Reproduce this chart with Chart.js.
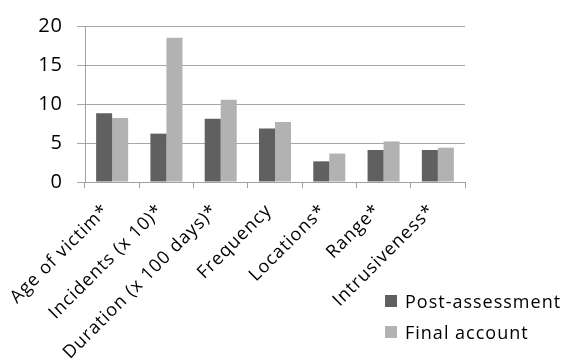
<!DOCTYPE html>
<html>
<head>
<meta charset="utf-8">
<script src="https://cdn.jsdelivr.net/npm/chart.js@4/dist/chart.umd.min.js"></script>
<style>
    html, body { margin: 0; padding: 0; background: #fff; }
    #wrap { width: 564px; height: 362px; }
</style>
</head>
<body>
<div id="wrap"><canvas id="assessChart" width="564" height="362"></canvas></div>
<script>
// Categories and the two series
const categories = ["Age of victim*", "Incidents (x 10)*", "Duration (x 100 days)*", "Frequency", "Locations*", "Range*", "Intrusiveness*"];
const postAssessment = [8.8, 6.2, 8.1, 6.85, 2.65, 4.1, 4.1];
const finalAccount = [8.2, 18.5, 10.55, 7.7, 3.65, 5.2, 4.4];
const yTicks = [0, 5, 10, 15, 20];

const FONT = "'Open Sans', sans-serif";

// Slightly loose letter spacing for all chart text
const spacedText = {
    id: "spacedText",
    beforeDraw(chart) {
        chart.ctx.letterSpacing = "1px";
    }
};

// Legend drawn in the lower right corner, under the plot
const cornerLegend = {
    id: "cornerLegend",
    afterDraw(chart) {
        const ctx = chart.ctx;
        ctx.save();
        ctx.font = "18px " + FONT;
        ctx.textBaseline = "alphabetic";
        ctx.textAlign = "left";
        chart.data.datasets.forEach((ds, i) => {
            const y = 295 + i * 31;
            ctx.fillStyle = ds.backgroundColor;
            ctx.fillRect(385, y, 12, 12);
            ctx.fillStyle = "#000";
            ctx.fillText(ds.label, 405, y + 13);
        });
        ctx.restore();
    }
};

const ctx = document.getElementById("assessChart").getContext("2d");

new Chart(ctx, {
    type: "bar",
    data: {
        labels: categories,
        datasets: [{
            label: "Post-assessment",
            data: postAssessment,
            backgroundColor: "#606060"
        }, {
            label: "Final account",
            data: finalAccount,
            backgroundColor: "#b2b2b2"
        }]
    },
    options: {
        responsive: false,
        animation: false,
        layout: {
            padding: { top: 20, right: 99, left: 0, bottom: 0 }
        },
        datasets: {
            bar: {
                categoryPercentage: 0.59,
                barPercentage: 1.0
            }
        },
        plugins: {
            legend: { display: false },
            tooltip: { enabled: false }
        },
        scales: {
            x: {
                offset: true,
                grid: {
                    offset: true,
                    drawOnChartArea: false,
                    color: "#a0a0a0",
                    tickLength: 6
                },
                border: { color: "#a0a0a0" },
                ticks: {
                    autoSkip: false,
                    minRotation: 45,
                    maxRotation: 45,
                    padding: 12,
                    labelOffset: -6,
                    color: "#000",
                    font: { family: FONT, size: 18 }
                },
                afterFit(scale) {
                    scale.height = 180;
                }
            },
            y: {
                min: 0,
                max: 20,
                afterBuildTicks(scale) {
                    scale.ticks = yTicks.map(v => ({ value: v }));
                },
                grid: {
                    color: "#a6a6a6",
                    tickLength: 8
                },
                border: { color: "#a0a0a0" },
                ticks: {
                    padding: 14,
                    color: "#000",
                    font: { family: FONT, size: 20 }
                },
                afterFit(scale) {
                    scale.width = 85;
                }
            }
        }
    },
    plugins: [spacedText, cornerLegend]
});
</script>
</body>
</html>
